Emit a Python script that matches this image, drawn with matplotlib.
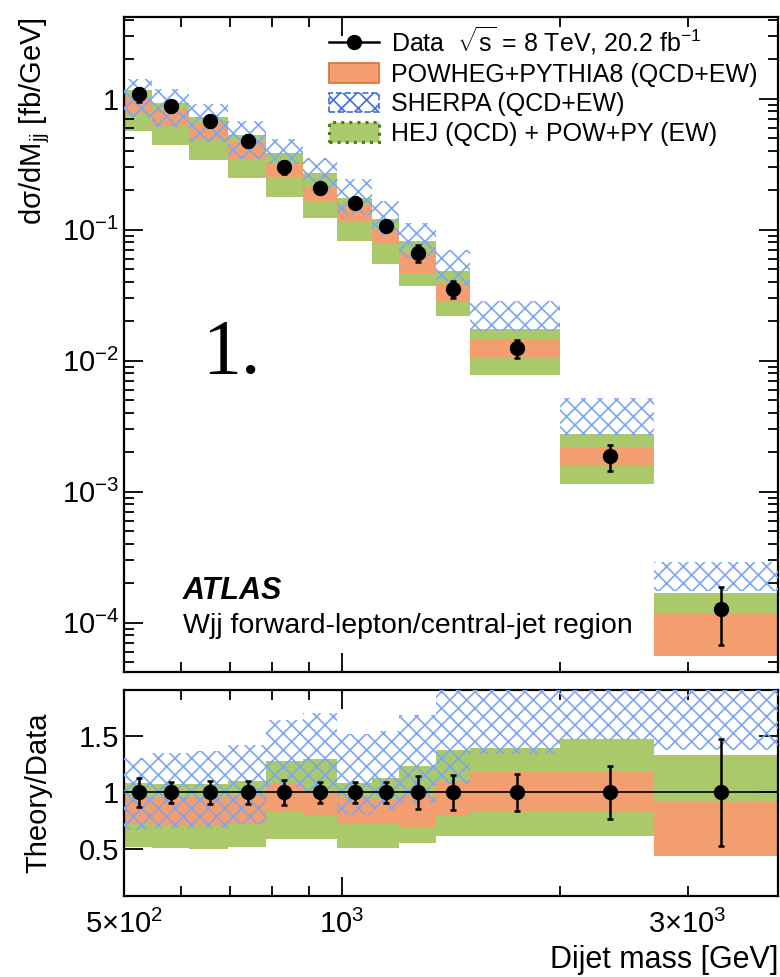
import numpy as np
import matplotlib
matplotlib.use("Agg")
import matplotlib.pyplot as plt
from matplotlib.patches import Patch
from matplotlib.lines import Line2D
from matplotlib.ticker import FixedLocator, FuncFormatter, NullFormatter

plt.rcParams['font.family'] = ['Liberation Sans', 'DejaVu Sans']
plt.rcParams['mathtext.fontset'] = 'custom'
plt.rcParams['mathtext.rm'] = 'Liberation Sans'
plt.rcParams['mathtext.it'] = 'Liberation Sans:italic'
plt.rcParams['mathtext.bf'] = 'Liberation Sans:bold'
plt.rcParams['hatch.linewidth'] = 1.2

# bin edges of the dijet mass [GeV]
edges = [500, 546, 615, 697, 786, 882, 985, 1100, 1200, 1350, 1500, 2000, 2700, 4000]
# data points
x_data = [524, 581, 657, 741, 831, 932, 1043, 1150, 1274, 1423, 1747, 2343, 3334]
xs_data = [1.08, 0.873, 0.675, 0.478, 0.30, 0.208, 0.161, 0.107, 0.0668, 0.0355,
           0.01248, 0.00186, 1.27e-4]
rel_err = [0.125, 0.095, 0.10, 0.10, 0.11, 0.095, 0.095, 0.095, 0.145, 0.15,
           0.16, 0.23, 0.47]

# theory / data bands
powheg_lo = [0.72, 0.71, 0.71, 0.72, 0.84, 0.79, 0.72, 0.72, 0.70, 0.79, 0.84, 0.84, 0.44]
powheg_hi = [0.95, 0.95, 0.96, 0.98, 1.08, 1.00, 0.96, 0.94, 0.97, 1.10, 1.18, 1.18, 0.92]
sherpa_lo = [0.67, 0.69, 0.69, 0.72, 1.05, 1.00, 0.80, 0.85, 0.91, 1.07, 1.34, 1.46, 1.37]
sherpa_hi = [1.30, 1.35, 1.36, 1.42, 1.64, 1.70, 1.51, 1.54, 1.68, 1.96, 2.30, 2.79, 2.30]
hej_lo = [0.52, 0.51, 0.50, 0.52, 0.59, 0.59, 0.51, 0.51, 0.555, 0.62, 0.62, 0.62, 0.575]
hej_hi = [1.08, 1.07, 1.07, 1.10, 1.28, 1.29, 1.08, 1.13, 1.23, 1.37, 1.39, 1.47, 1.33]

c_orange = '#F29E70'
c_green = '#A9C96A'
c_blue = '#7DA6F2'

edges = np.array(edges)
left = edges[:-1]
width = np.diff(edges)
xs = np.array(xs_data)
err = np.array(rel_err)

fig = plt.figure(figsize=(7.8, 9.77), dpi=100)
ax1 = fig.add_axes([124/780, 1-672/977, (778-124)/780, (672-17)/977])
ax2 = fig.add_axes([124/780, 1-896/977, (778-124)/780, (896-690)/977])


def draw_bands(ax, scale):
    ax.bar(left, (np.array(hej_hi) - hej_lo) * scale, bottom=np.array(hej_lo) * scale,
           width=width, align='edge', color=c_green, linewidth=0, zorder=1)
    ax.bar(left, (np.array(powheg_hi) - powheg_lo) * scale, bottom=np.array(powheg_lo) * scale,
           width=width, align='edge', color=c_orange, linewidth=0, zorder=2)
    ax.bar(left, (np.array(sherpa_hi) - sherpa_lo) * scale, bottom=np.array(sherpa_lo) * scale,
           width=width, align='edge', facecolor='none', edgecolor=c_blue, hatch='xx',
           linewidth=0, zorder=3)


# top panel
draw_bands(ax1, xs)
ax1.errorbar(x_data, xs, yerr=xs * err, fmt='o', color='black', ms=10, lw=1.8,
             capsize=2.5, capthick=1.8, zorder=5)

ax1.set_xscale('log')
ax1.set_yscale('log')
ax1.set_xlim(500, 4000)
ax1.set_ylim(4.2e-5, 4.2)
ax1.set_ylabel('dσ/dM$_{\\rm jj}$ [fb/GeV]', fontsize=21, loc='top')
ax1.yaxis.set_label_coords(-0.11, 1.0)


def ylog_fmt(v, pos):
    if abs(v - 1) < 1e-9:
        return '1'
    return r'$10^{%d}$' % round(np.log10(v))


ax1.yaxis.set_major_locator(FixedLocator([1e-4, 1e-3, 1e-2, 1e-1, 1]))
ax1.yaxis.set_major_formatter(FuncFormatter(ylog_fmt))
ax1.yaxis.set_minor_locator(matplotlib.ticker.LogLocator(base=10, subs=np.arange(2, 10), numticks=20))
ax1.yaxis.set_minor_formatter(NullFormatter())

ax1.text(0.12, 0.485, '1.', transform=ax1.transAxes, fontsize=56,
         family='Liberation Serif', va='center', ha='left')
ax1.text(0.09, 0.112, 'ATLAS', transform=ax1.transAxes, fontsize=22,
         fontweight='bold', fontstyle='italic')
ax1.text(0.09, 0.06, 'Wjj forward-lepton/central-jet region', transform=ax1.transAxes,
         fontsize=20.5)

handles = [
    Line2D([], [], color='black', marker='o', ms=10, lw=1.8),
    Patch(facecolor=c_orange, edgecolor='#D9703F', linewidth=1.2),
    Patch(facecolor='none', edgecolor='#3D6FE0', hatch='xx', linestyle='--', linewidth=1.2),
    Patch(facecolor=c_green, edgecolor='#4F7A1A', linestyle=':', linewidth=2.2),
]
labels = [
    r'Data  $\sqrt{\rm s}$ = 8 TeV, 20.2 fb$^{-1}$',
    'POWHEG+PYTHIA8 (QCD+EW)',
    'SHERPA (QCD+EW)',
    'HEJ (QCD) + POW+PY (EW)',
]
ax1.legend(handles, labels, loc='upper right', bbox_to_anchor=(0.995, 1.015),
           frameon=False, fontsize=18, handlelength=2.0, handleheight=0.85,
           labelspacing=0.22, handletextpad=0.45, borderpad=0.2)

# ratio panel
draw_bands(ax2, 1.0)
ax2.axhline(1.0, color='black', lw=1.2, zorder=4)
ax2.errorbar(x_data, np.ones(len(x_data)), yerr=err, fmt='o', color='black', ms=10,
             lw=1.8, capsize=2.5, capthick=1.8, zorder=5)
ax2.set_xscale('log')
ax2.set_xlim(500, 4000)
ax2.set_ylim(0.09, 1.9)
ax2.set_yticks([0.5, 1.0, 1.5])
ax2.set_yticklabels(['0.5', '1', '1.5'])
ax2.set_ylabel('Theory/Data', fontsize=21)
ax2.yaxis.set_label_coords(-0.11, 0.5)
ax2.set_xlabel('Dijet mass [GeV]', fontsize=22, loc='right')

for ax in (ax1, ax2):
    ax.xaxis.set_major_locator(FixedLocator([1000]))
    ax.xaxis.set_minor_locator(FixedLocator([500, 600, 700, 800, 900, 2000, 3000]))
    ax.tick_params(which='both', direction='in', top=True, right=True, width=1.3,
                   labelsize=21)
    ax.tick_params(which='major', length=14)
    ax.tick_params(which='minor', length=7)
    for s in ax.spines.values():
        s.set_linewidth(1.6)

ax1.xaxis.set_major_formatter(NullFormatter())
ax1.xaxis.set_minor_formatter(NullFormatter())
ax2.xaxis.set_major_formatter(FuncFormatter(lambda v, p: r'$10^{3}$'))
minor_lab = {500: r'$5{\times}10^{2}$', 3000: r'$3{\times}10^{3}$'}
ax2.xaxis.set_minor_formatter(FuncFormatter(lambda v, p: minor_lab.get(int(round(v)), '')))
ax2.tick_params(axis='x', which='both', pad=10)

fig.savefig('out.png', dpi=100)
